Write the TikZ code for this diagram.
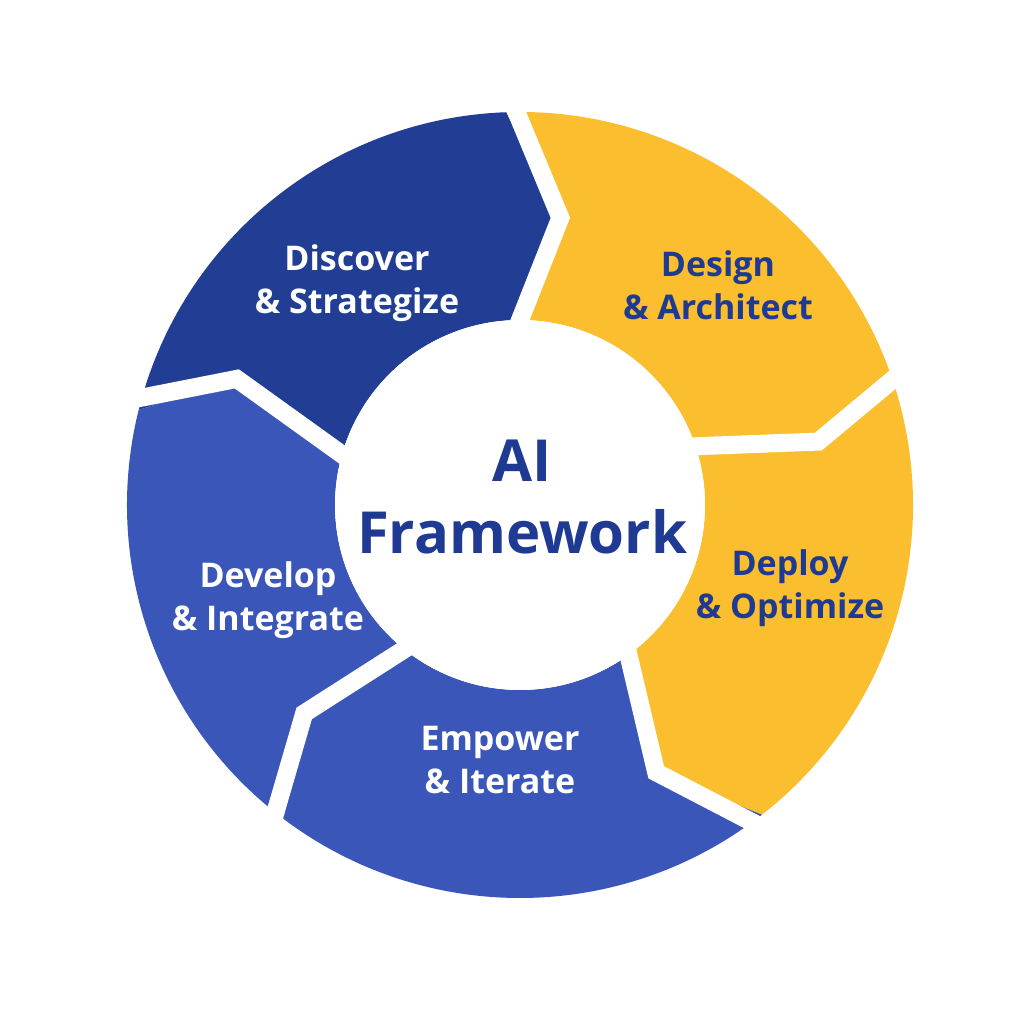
\documentclass[tikz,border=0pt]{standalone}
\usepackage{fontspec}
\setmainfont{Open Sans}
\definecolor{dblue}{HTML}{213E94}
\definecolor{mblue}{HTML}{3A56B8}
\definecolor{ayel}{HTML}{FBBE2E}
\definecolor{tblue}{HTML}{1F3A93}
\begin{document}
\begin{tikzpicture}[x=1pt,y=1pt,
  lab/.style={align=center,font=\fontsize{34}{43}\selectfont\bfseries},
  gap/.style={white,line width=18pt,line join=miter}]
\useasboundingbox[fill=white] (0,0) rectangle (1024,1024);
\begin{scope}[shift={(520,519)}]
\fill[dblue] (166:393) arc[start angle=166,end angle=92,radius=393] -- (82:290) -- (92:185) arc[start angle=92,end angle=166,radius=185] -- (156:310) -- cycle;
\fill[ayel] (92:393) arc[start angle=92,end angle=20,radius=393] -- (12:305) -- (20:185) arc[start angle=20,end angle=92,radius=185] -- (82:290) -- cycle;
\fill[ayel] (20:393) arc[start angle=20,end angle=-52,radius=393] -- (-63:300) -- (-52:185) arc[start angle=-52,end angle=20,radius=185] -- (12:305) -- cycle;
\fill[mblue] (-52:393) arc[start angle=-52,end angle=-127,radius=393] -- (-136:300) -- (-127:185) arc[start angle=-127,end angle=-52,radius=185] -- (-63:300) -- cycle;
\fill[mblue] (-127:393) arc[start angle=-127,end angle=-194,radius=393] -- (-204:310) -- (-194:185) arc[start angle=-194,end angle=-127,radius=185] -- (-136:300) -- cycle;
\coordinate (o1) at (166:420); \coordinate (t1) at (156:310); \coordinate (i1) at (166:170);
\coordinate (o2) at (92:420); \coordinate (t2) at (82:290); \coordinate (i2) at (92:170);
\coordinate (o3) at (20:420); \coordinate (t3) at (12:305); \coordinate (i3) at (20:170);
\coordinate (o4) at (-52:420); \coordinate (t4) at (-63:300); \coordinate (i4) at (-52:170);
\coordinate (o5) at (-127:420); \coordinate (t5) at (-136:300); \coordinate (i5) at (-127:170);
\foreach \k in {1,...,5}{\draw[gap] (o\k) -- (t\k) -- (i\k);}
\fill[white] (0,0) circle (185);
\end{scope}
\node[lab,text=white] (disc) at (357,741) {Discover\\\& Strategize};
\node[lab,text=tblue] (des) at (718,739) {Design\\\& Architect};
\node[lab,text=tblue] (dep) at (790,436) {Deploy\\\& Optimize};
\node[lab,text=white] (emp) at (500,264) {Empower\\\& Iterate};
\node[lab,text=white] (dev) at (268,424) {Develop\\\& Integrate};
\node[align=center,text=tblue,font=\fontsize{58}{72}\selectfont\bfseries] (ai) at (522,527) {AI\\Framework};
\end{tikzpicture}
\end{document}
